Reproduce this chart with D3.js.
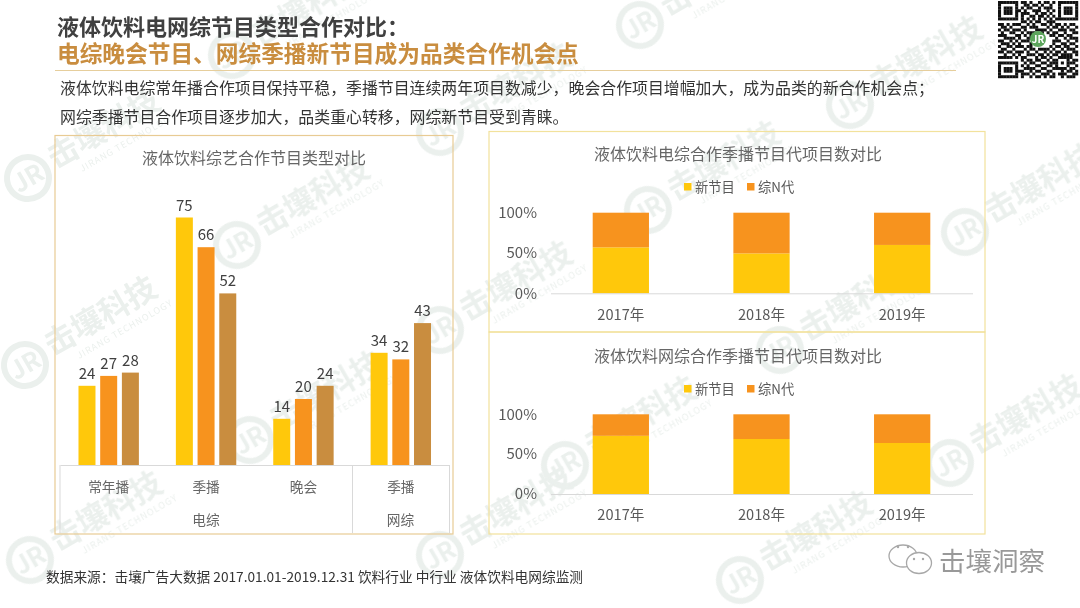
<!DOCTYPE html>
<html><head><meta charset="utf-8">
<script src="https://cdn.jsdelivr.net/npm/d3@7/dist/d3.min.js"></script>
<style>html,body{margin:0;padding:0;background:#fff;overflow:hidden}svg{display:block}text{font-family:"Noto Sans CJK SC","Noto Sans",sans-serif}</style>
</head><body><svg id="c" width="1080" height="608"></svg>
<script>
const titleLine1 = "液体饮料电网综节目类型合作对比：";
const titleLine2 = "电综晚会节目、网综季播新节目成为品类合作机会点";
const bodyLines = ["液体饮料电综常年播合作项目保持平稳，季播节目连续两年项目数减少，晚会合作项目增幅加大，成为品类的新合作机会点；","网综季播节目合作项目逐步加大，品类重心转移，网综新节目受到青睐。"];
const sourceText = "数据来源：击壤广告大数据 2017.01.01-2019.12.31  饮料行业 中行业 液体饮料电网综监测";
const groupCategories = ["常年播","季播","晚会","网综季播"];
const groupLabels = ["常年播","季播","晚会","季播"];
const seriesA = [24,75,14,34];
const seriesB = [27,66,20,32];
const seriesC = [28,52,24,43];
const years = ["2017年","2018年","2019年"];
const tvNew = [57,49.5,60];
const webNew = [73,69,64];
const legendNames = ["新节目","综N代"];
const percentTicks = [0,50,100];
const YELLOW="#FFC80B", ORANGE="#F7931E", BROWN="#C98D3F";
const qrRows = [
"1111111011010010110101111111",
"1000001001101101001001000001",
"1011101010110010111001011101",
"1011101101001110010101011101",
"1011101011100101101001011101",
"1000001010011011010101000001",
"1111111010101010101011111111",
"0000000011010110011100000000",
"1101011100101001101011010110",
"0110100011011100010110101001",
"1011011101000111101001110110",
"0100110010111001010110010011",
"1110001101011000001101101100",
"0011110100110000000010010111",
"1100101011100000000111001001",
"0111010100010000000100110110",
"1001101110110000001011011001",
"0110010001011011110100101110",
"1101101110100100101011010011",
"0010010100111011010110111101",
"1111101011000101101001111100",
"0000000010110110010110001011",
"1111111001011001101110101110",
"1000001010100110011010001001",
"1011101001111001100111110110",
"1011101110010110011000101101",
"1000001011101001110101110011",
"1111111010010110101100101110"];
const svg=d3.select("#c");
const defs=svg.append("defs");
defs.append("filter").attr("id","soft").append("feGaussianBlur").attr("stdDeviation",0.7);

// watermark
const marks=[[28,178],[237,245],[232,55],[440,132],[640,25],[850,105],[965,232],[648,210],[25,365],[440,330],[780,350],[565,465],[950,463],[250,440],[30,560],[440,555],[740,580]];
const wm=svg.append("g").attr("fill","#ebf0ed").attr("filter","url(#soft)");
marks.forEach(([x,y])=>{
  const g=wm.append("g").attr("transform",`translate(${x},${y}) rotate(-30)`);
  g.append("circle").attr("r",21).attr("fill","none").attr("stroke","#ebf0ed").attr("stroke-width",6);
  g.append("text").attr("text-anchor","middle").attr("dy",9).attr("font-size",25).attr("font-weight",700).text("JR");
  g.append("text").attr("x",28).attr("y",6).attr("font-size",31).attr("font-weight",700).text("击壤科技");
  g.append("text").attr("x",50).attr("y",22).attr("font-size",9).attr("letter-spacing",1).text("JIRANG TECHNOLOGY");
});

// heading
svg.append("text").attr("x",57).attr("y",35).attr("font-size",22).attr("font-weight",700).attr("fill","#404040").text(titleLine1);
svg.append("text").attr("x",57).attr("y",62).attr("font-size",22.7).attr("font-weight",700).attr("fill","#C98D3F").text(titleLine2);
svg.append("line").attr("x1",55).attr("x2",956).attr("y1",70.5).attr("y2",70.5).attr("stroke","#E6CE9C");
bodyLines.forEach((t,i)=>svg.append("text").attr("x",60).attr("y",[94,123][i]).attr("font-size",15.9).attr("fill","#333").text(t));
svg.append("text").attr("x",46).attr("y",582).attr("font-size",13.7).attr("fill","#333").text(sourceText);

// panels
const panel=(x,y,w,h,c)=>svg.append("rect").attr("x",x).attr("y",y).attr("width",w).attr("height",h).attr("fill","none").attr("stroke",c).attr("stroke-width",1.2);
panel(55,135.5,398,398.5,"#E8CB94");
panel(489,131.5,496,200.5,"#F2E29C");
panel(489,332,496,202,"#F2E29C");

// left chart
const x0=d3.scaleBand().domain(groupCategories).range([60,449.5]);
const x1=d3.scaleBand().domain([0,1,2]).range([-30.2,30.2]).paddingInner(0.217);
const yL=d3.scaleLinear().domain([0,75]).range([465,217.5]);
const left=svg.append("g");
left.append("text").attr("x",254).attr("y",164).attr("text-anchor","middle").attr("font-size",16).attr("fill","#666").text("液体饮料综艺合作节目类型对比");
[seriesA,seriesB,seriesC].forEach((s,k)=>{
  const col=[YELLOW,ORANGE,BROWN][k];
  const g=left.append("g");
  g.selectAll("rect").data(s).join("rect")
    .attr("x",(d,i)=>x0(groupCategories[i])+x0.bandwidth()/2+x1(k)).attr("width",x1.bandwidth())
    .attr("y",d=>yL(d)).attr("height",d=>yL(0)-yL(d)).attr("fill",col);
  g.selectAll("text").data(s).join("text")
    .attr("x",(d,i)=>x0(groupCategories[i])+x0.bandwidth()/2+x1(k)+x1.bandwidth()/2).attr("y",d=>yL(d)-7)
    .attr("text-anchor","middle").attr("font-size",15).attr("fill","#404040").text(d=>d);
});
const axL=left.append("g").attr("transform","translate(0,465)")
  .call(d3.axisBottom(x0).tickSize(0).tickPadding(17).tickFormat((d,i)=>groupLabels[i]));
axL.select(".domain").attr("stroke","#D9D9D9");
axL.selectAll("text").attr("font-size",13.7).attr("fill","#666").attr("font-family",'"Noto Sans CJK SC"');
const lvl=[60,352.5,449.5];
lvl.forEach(x=>left.append("line").attr("x1",x).attr("x2",x).attr("y1",465).attr("y2",533).attr("stroke","#D9D9D9"));
[["电综",206],["网综",400.5]].forEach(([t,x])=>left.append("text").attr("x",x).attr("y",525).attr("text-anchor","middle").attr("font-size",13.7).attr("fill","#666").text(t));

// right charts
function stacked(values,title,titleY,legendY,top,base){
  const g=svg.append("g");
  const x=d3.scaleBand().domain(years).range([550.5,972.5]).paddingInner(0.6).paddingOuter(0.3);
  const y=d3.scaleLinear().domain([0,100]).range([base,top]);
  g.append("text").attr("x",738).attr("y",titleY).attr("text-anchor","middle").attr("font-size",16).attr("fill","#666").text(title);
  g.selectAll(".a").data(values).join("rect").attr("class","a").attr("x",(d,i)=>x(years[i])).attr("width",x.bandwidth()).attr("y",d=>y(d)).attr("height",d=>y(0)-y(d)).attr("fill",YELLOW);
  g.selectAll(".b").data(values).join("rect").attr("class","b").attr("x",(d,i)=>x(years[i])).attr("width",x.bandwidth()).attr("y",y(100)).attr("height",d=>y(d)-y(100)).attr("fill",ORANGE);
  const ax=g.append("g").attr("transform",`translate(0,${base})`).call(d3.axisBottom(x).tickSize(0).tickPadding(16));
  ax.select(".domain").attr("stroke","#D9D9D9");
  ax.selectAll("text").attr("font-size",14.6).attr("fill","#595959").attr("font-family",'"Noto Sans CJK SC"');
  const ay=g.append("g").attr("transform","translate(537,0)").call(d3.axisLeft(y).tickValues(percentTicks).tickSize(0).tickPadding(0).tickFormat(d=>d+"%"));
  ay.select(".domain").remove();
  ay.selectAll("text").attr("font-size",15).attr("fill","#595959").attr("font-family",'"Noto Sans CJK SC"');
  legendNames.forEach((n,i)=>{
    const lx=[684,747][i];
    g.append("rect").attr("x",lx).attr("y",legendY-4).attr("width",7.5).attr("height",7.5).attr("fill",[YELLOW,ORANGE][i]);
    g.append("text").attr("x",lx+11).attr("y",legendY+5).attr("font-size",13.3).attr("fill","#595959").text(n);
  });
}
stacked(tvNew,"液体饮料电综合作季播节目代项目数对比",160,187,212.7,293.3);
stacked(webNew,"液体饮料网综合作季播节目代项目数对比",362,389,414.3,494);

// QR code
const qr=svg.append("g");
const qx=d3.scaleBand().domain(d3.range(28)).range([998,1078]);
const qy=d3.scaleBand().domain(d3.range(28)).range([1,78]);
qrRows.forEach((r,j)=>[...r].forEach((b,i)=>{if(b==="1")qr.append("rect").attr("x",qx(i)).attr("y",qy(j)).attr("width",qx.bandwidth()+.2).attr("height",qy.bandwidth()+.2).attr("fill","#111");}));
qr.append("circle").attr("cx",1038).attr("cy",39).attr("r",8).attr("fill","#5DA55D");
qr.append("text").attr("x",1038).attr("y",43).attr("text-anchor","middle").attr("font-size",10).attr("font-weight",700).attr("fill","#fff").text("JR");

// footer brand
const br=svg.append("g").attr("fill","none").attr("stroke","#a8a8a8").attr("stroke-width",1.3);
br.append("ellipse").attr("cx",903).attr("cy",556).attr("rx",14).attr("ry",11);
br.append("ellipse").attr("cx",919).attr("cy",563).attr("rx",12.5).attr("ry",10.5).attr("fill","#fff");
[[898,547],[908,547],[914,559],[923,559]].forEach(([cx,cy])=>svg.append("circle").attr("cx",cx).attr("cy",cy).attr("r",1.2).attr("fill","#a8a8a8"));
svg.append("text").attr("x",939).attr("y",571).attr("font-size",26.5).attr("fill","#999").text("击壤洞察");
</script></body></html>
